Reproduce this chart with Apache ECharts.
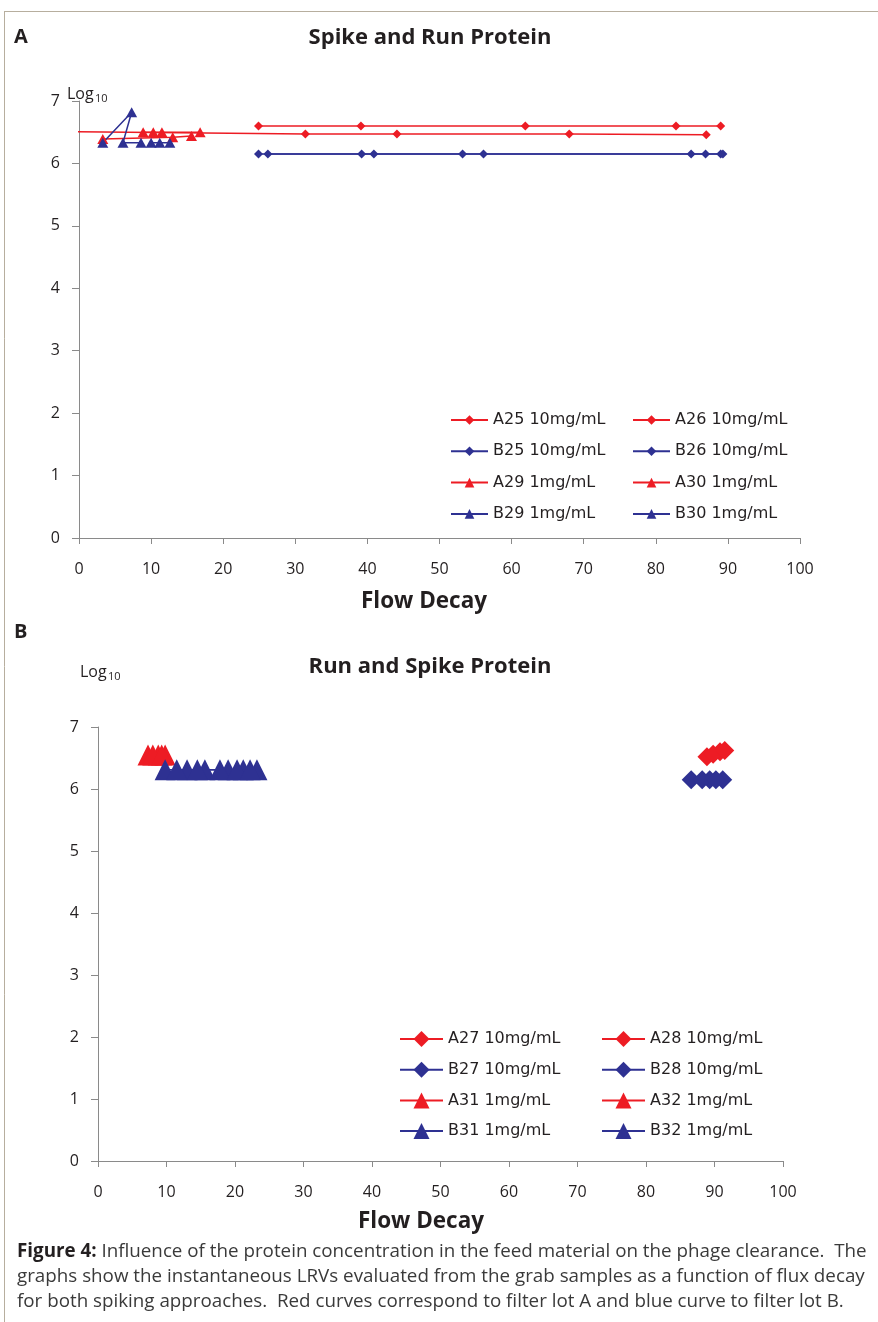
<!DOCTYPE html>
<html>
<head>
<meta charset="utf-8">
<script src="https://cdn.jsdelivr.net/npm/echarts@6/dist/echarts.min.js"></script>
<style>
html,body{margin:0;padding:0;background:#fff;}
#c{width:878px;height:1322px;}
</style>
</head>
<body>
<div id="c"></div>
<script>
// ---------- Data: panel A (Spike and Run Protein) ----------
const xTicks = [0,10,20,30,40,50,60,70,80,90,100];
const yTicks = [0,1,2,3,4,5,6,7];

const A25_x = [24.9, 39.1, 61.9, 82.8, 89.0];
const A25_y = [6.60, 6.60, 6.60, 6.60, 6.60];
const A26_x = [-0.8, 31.4, 44.1, 68.0, 87.0];
const A26_y = [6.51, 6.47, 6.47, 6.47, 6.46];
const B25_x = [24.9, 39.2, 53.2, 84.9, 89.0];
const B25_y = [6.15, 6.15, 6.15, 6.15, 6.15];
const B26_x = [26.2, 40.9, 56.1, 86.9, 89.3];
const B26_y = [6.15, 6.15, 6.15, 6.15, 6.15];
const A29_x = [3.3, 13.0, 15.6];
const A29_y = [6.39, 6.42, 6.44];
const A30_x = [8.9, 10.3, 11.5, 16.8];
const A30_y = [6.50, 6.50, 6.50, 6.50];
const B29_x = [3.3, 7.3, 6.1, 8.6];
const B29_y = [6.33, 6.82, 6.33, 6.33];
const B30_x = [10.0, 11.2, 12.6];
const B30_y = [6.33, 6.33, 6.33];

// ---------- Data: panel B (Run and Spike Protein) ----------
const A27_x = [88.9, 90.8];
const A27_y = [6.52, 6.60];
const A28_x = [89.8, 91.5];
const A28_y = [6.56, 6.62];
const B27_x = [86.6, 89.3, 91.2];
const B27_y = [6.15, 6.15, 6.15];
const B28_x = [88.2, 90.2];
const B28_y = [6.15, 6.15];
const A31_x = [7.3, 8.8, 9.8];
const A31_y = [6.55, 6.55, 6.55];
const A32_x = [8.0, 9.3];
const A32_y = [6.55, 6.55];
const B31_x = [9.8, 13.0, 15.6, 19.0, 21.2, 23.2];
const B31_y = [6.31, 6.31, 6.31, 6.31, 6.31, 6.31];
const B32_x = [11.5, 14.5, 17.8, 20.3, 22.2];
const B32_y = [6.31, 6.31, 6.31, 6.31, 6.31];

const RED = '#ed1c24';
const BLUE = '#2e3192';
const TXT = '#231f20';
const AXC = '#8a8a8a';

function pts(xs, ys){ return xs.map((x,i)=>[x, ys[i]]); }

function ser(name, xs, ys, color, symbol, size, gi, hideFirst){
  const data = pts(xs, ys).map((p,i)=> (hideFirst && i===0) ? {value:p, symbolSize:0} : p);
  return {
    name, type:'line', xAxisIndex:gi, yAxisIndex:gi,
    data, symbol, symbolSize:size, showSymbol:true,
    clip:false, animation:false,
    lineStyle:{color, width:1.5},
    itemStyle:{color, borderWidth:0},
    emphasis:{disabled:true}
  };
}

const tri = [11, 10];
const dia = 9;
const triB = [21, 21];
const diaB = 19;

const series = [
  ser('A25 10mg/mL', A25_x, A25_y, RED, 'diamond', dia, 0),
  ser('A26 10mg/mL', A26_x, A26_y, RED, 'diamond', dia, 0, true),
  ser('B25 10mg/mL', B25_x, B25_y, BLUE, 'diamond', dia, 0),
  ser('B26 10mg/mL', B26_x, B26_y, BLUE, 'diamond', dia, 0),
  ser('A29 1mg/mL', A29_x, A29_y, RED, 'triangle', tri, 0),
  ser('A30 1mg/mL', A30_x, A30_y, RED, 'triangle', tri, 0),
  ser('B29 1mg/mL', B29_x, B29_y, BLUE, 'triangle', tri, 0),
  ser('B30 1mg/mL', B30_x, B30_y, BLUE, 'triangle', tri, 0),

  ser('A27 10mg/mL', A27_x, A27_y, RED, 'diamond', diaB, 1),
  ser('A28 10mg/mL', A28_x, A28_y, RED, 'diamond', diaB, 1),
  ser('B27 10mg/mL', B27_x, B27_y, BLUE, 'diamond', diaB, 1),
  ser('B28 10mg/mL', B28_x, B28_y, BLUE, 'diamond', diaB, 1),
  ser('A31 1mg/mL', A31_x, A31_y, RED, 'triangle', triB, 1),
  ser('A32 1mg/mL', A32_x, A32_y, RED, 'triangle', triB, 1),
  ser('B31 1mg/mL', B31_x, B31_y, BLUE, 'triangle', triB, 1),
  ser('B32 1mg/mL', B32_x, B32_y, BLUE, 'triangle', triB, 1)
];

function xAx(gi){
  return {
    type:'value', gridIndex:gi, min:xTicks[0], max:xTicks[xTicks.length-1], interval:10,
    axisLine:{show:true, lineStyle:{color:AXC, width:1}},
    axisTick:{show:true, inside:false, length:6, lineStyle:{color:AXC}},
    axisLabel:{color:TXT, fontSize:16, fontFamily:'Open Sans', margin:23},
    splitLine:{show:false}
  };
}
function yAx(gi){
  return {
    type:'value', gridIndex:gi, min:yTicks[0], max:yTicks[yTicks.length-1], interval:1,
    axisLine:{show:true, lineStyle:{color:AXC, width:1}},
    axisTick:{show:true, inside:false, length:7, lineStyle:{color:AXC}},
    axisLabel:{color:TXT, fontSize:16, fontFamily:'Open Sans', margin:19},
    splitLine:{show:false}
  };
}

const legTxt = {color:TXT, fontSize:16, fontFamily:'DejaVu Sans', lineHeight:16};
function leg(names, left, top, ih, iw, rowStep){
  return {
    data:names, orient:'vertical', left, top, itemGap:rowStep-16, itemWidth:iw, itemHeight:ih,
    textStyle:legTxt, selectedMode:false, padding:0
  };
}

const FD = 'Open Sans, sans-serif';

const option = {
  backgroundColor:'#fff',
  animation:false,
  grid:[
    {left:79, top:101, width:721, height:437, containLabel:false},
    {left:98, top:727, width:685, height:434, containLabel:false}
  ],
  xAxis:[xAx(0), xAx(1)],
  yAxis:[yAx(0), yAx(1)],
  legend:[
    leg(['A25 10mg/mL','B25 10mg/mL','A29 1mg/mL','B29 1mg/mL'], 450, 412, 12, 37, 31.3),
    leg(['A26 10mg/mL','B26 10mg/mL','A30 1mg/mL','B30 1mg/mL'], 632, 412, 12, 37, 31.3),
    leg(['A27 10mg/mL','B27 10mg/mL','A31 1mg/mL','B31 1mg/mL'], 399, 1031, 20, 43, 30.7),
    leg(['A28 10mg/mL','B28 10mg/mL','A32 1mg/mL','B32 1mg/mL'], 601, 1031, 20, 43, 30.7)
  ],
  series,
  graphic:[
    {type:'line', shape:{x1:4, y1:11.5, x2:878, y2:11.5}, style:{stroke:'#b7ae9e', lineWidth:1}, silent:true},
    {type:'line', shape:{x1:4.5, y1:11, x2:4.5, y2:1322}, style:{stroke:'#b7ae9e', lineWidth:1}, silent:true},
    {type:'text', x:14, y:37, style:{text:'A', font:'bold 20px '+FD, fill:TXT, verticalAlign:'middle'}},
    {type:'text', x:14, y:632, style:{text:'B', font:'bold 20px '+FD, fill:TXT, verticalAlign:'middle'}},
    {type:'text', x:430, y:38, style:{text:'Spike and Run Protein', font:'bold 22px '+FD, fill:TXT, align:'center', verticalAlign:'middle'}},
    {type:'text', x:430, y:667, style:{text:'Run and Spike Protein', font:'bold 22px '+FD, fill:TXT, align:'center', verticalAlign:'middle'}},
    {type:'text', x:424, y:602, style:{text:'Flow Decay', font:'bold 22.5px '+FD, fill:TXT, align:'center', verticalAlign:'middle'}},
    {type:'text', x:421, y:1222, style:{text:'Flow Decay', font:'bold 22.5px '+FD, fill:TXT, align:'center', verticalAlign:'middle'}},
    {type:'text', x:67, y:94, style:{text:'Log', font:'16px Open Sans', fill:TXT, verticalAlign:'middle'}},
    {type:'text', x:95, y:99, style:{text:'10', font:'11px Open Sans', fill:TXT, verticalAlign:'middle'}},
    {type:'text', x:80, y:672, style:{text:'Log', font:'16px Open Sans', fill:TXT, verticalAlign:'middle'}},
    {type:'text', x:108, y:677, style:{text:'10', font:'11px Open Sans', fill:TXT, verticalAlign:'middle'}},
    {type:'text', x:17, y:1239, style:{
      text:'{b|Figure 4:} Influence of the protein concentration in the feed material on the phage clearance.  The\ngraphs show the instantaneous LRVs evaluated from the grab samples as a function of flux decay\nfor both spiking approaches.  Red curves correspond to filter lot A and blue curve to filter lot B.',
      font:'18.8px Open Sans', fill:'#3a3a3a', lineHeight:25,
      rich:{b:{fontWeight:'bold', fontSize:18.8, fontFamily:'Open Sans', fill:'#231f20', lineHeight:25}}
    }}
  ]
};

const chart = echarts.init(document.getElementById('c'), null, {renderer:'canvas'});
chart.setOption(option);
</script>
</body>
</html>
